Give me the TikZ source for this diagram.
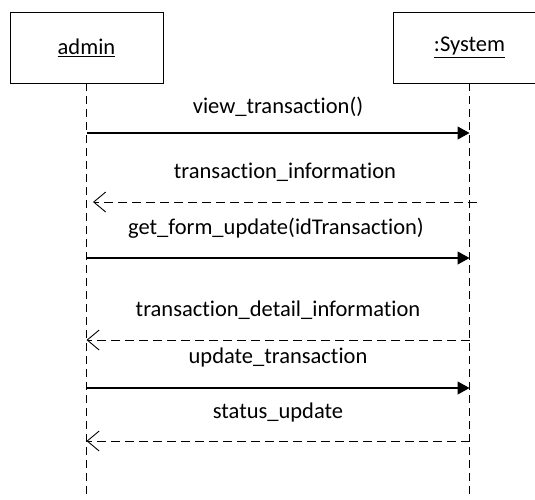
\documentclass[tikz,border=0pt]{standalone}
\usepackage{fontspec}
\setmainfont{Carlito}[Ligatures=NoCommon]
\usetikzlibrary{arrows.meta, positioning}

\tikzset{
    lifebox/.style={draw, line width=0.9pt, minimum width=153pt, minimum height=71pt, font=\fontsize{22.5}{26}\selectfont},
    lifeline/.style={line width=0.9pt, dash pattern=on 8pt off 5pt},
    callmsg/.style={line width=1.1pt, -{Triangle[length=12pt,width=13pt]}},
    replymsg/.style={line width=0.9pt, dash pattern=on 9pt off 5pt, -{Straight Barb[length=12pt,width=20pt,line width=0.9pt]}},
    msglabel/.style={font=\fontsize{22.5}{26}\selectfont, inner sep=0pt}
}

\begin{document}
\begin{tikzpicture}[x=1pt, y=-1pt]

\useasboundingbox (0,0) rectangle (535,499);

% Object boxes
\node[lifebox] (admin) at (86.5,47.5) {\underline{admin}};
\node[lifebox] (system) at (469.5,47.5) {\underline{:System}};

% Lifelines
\coordinate (adminend) at (86.5,499);
\coordinate (systemend) at (469.5,499);
\draw[lifeline] (admin.south) -- (adminend);
\draw[lifeline] (system.south) -- (systemend);

% Message end points on the lifelines
\foreach \n/\y in {1/133, 2/202, 3/258, 4/340, 5/388, 6/441}
{
    \coordinate (a\n) at (86.5,\y);
    \coordinate (s\n) at (469.5,\y);
}
\coordinate (s2x) at (477,202);
\coordinate (a2x) at (93,202);

% view_transaction()
\draw[callmsg] (a1) -- (s1);
\node[msglabel] (m1) at (278,107) {view\_transaction()};

% transaction_information
\draw[replymsg] (s2x) -- (a2x);
\node[msglabel] (m2) at (285,172) {transaction\_information};

% get_form_update(idTransaction)
\draw[callmsg] (a3) -- (s3);
\node[msglabel] (m3) at (276,228) {get\_form\_update(idTransaction)};

% transaction_detail_information
\draw[replymsg] (s4) -- (a4);
\node[msglabel] (m4) at (278,310) {transaction\_detail\_information};

% update_transaction
\draw[callmsg] (a5) -- (s5);
\node[msglabel] (m5) at (278,357) {update\_transaction};

% status_update
\draw[replymsg] (s6) -- (a6);
\node[msglabel] (m6) at (278,412) {status\_update};

\end{tikzpicture}
\end{document}
